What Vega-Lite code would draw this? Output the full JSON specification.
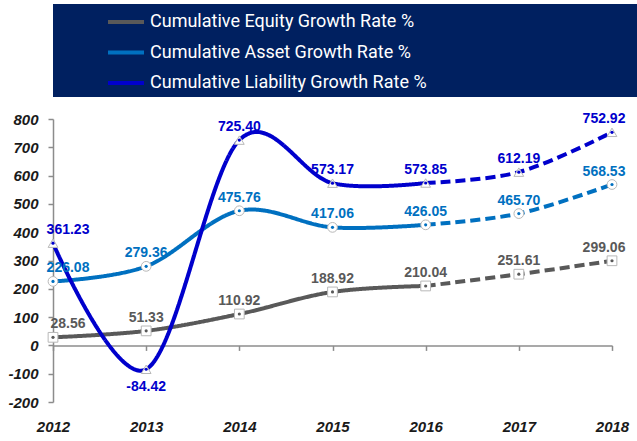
{
  "$schema": "https://vega.github.io/schema/vega-lite/v6.json",
  "padding": {"left": 3, "top": 4, "right": 3, "bottom": 0},
  "background": "white",
  "config": {
    "view": {"stroke": null},
    "font": "Liberation Sans",
    "locale": {"number": {"decimal": ".", "thousands": ",", "grouping": [3], "currency": ["$", ""], "minus": "-"}}
  },
  "resolve": {"legend": {"color": "independent"}},
  "spacing": 15,
  "datasets": {
    "series": [
      {"series": "Cumulative Equity Growth Rate  %"},
      {"series": "Cumulative Asset Growth Rate  %"},
      {"series": "Cumulative Liability Growth Rate  %"}
    ],
    "rates": [
      {"series": "Cumulative Equity Growth Rate  %", "year": "2012", "value": 28.56, "seg": "actual"},
      {"series": "Cumulative Equity Growth Rate  %", "year": "2013", "value": 51.33, "seg": "actual"},
      {"series": "Cumulative Equity Growth Rate  %", "year": "2014", "value": 110.92, "seg": "actual"},
      {"series": "Cumulative Equity Growth Rate  %", "year": "2015", "value": 188.92, "seg": "actual"},
      {"series": "Cumulative Equity Growth Rate  %", "year": "2016", "value": 210.04, "seg": "actual"},
      {"series": "Cumulative Equity Growth Rate  %", "year": "2016", "value": 210.04, "seg": "forecast"},
      {"series": "Cumulative Equity Growth Rate  %", "year": "2017", "value": 251.61, "seg": "forecast"},
      {"series": "Cumulative Equity Growth Rate  %", "year": "2018", "value": 299.06, "seg": "forecast"},
      {"series": "Cumulative Asset Growth Rate  %", "year": "2012", "value": 226.08, "seg": "actual"},
      {"series": "Cumulative Asset Growth Rate  %", "year": "2013", "value": 279.36, "seg": "actual"},
      {"series": "Cumulative Asset Growth Rate  %", "year": "2014", "value": 475.76, "seg": "actual"},
      {"series": "Cumulative Asset Growth Rate  %", "year": "2015", "value": 417.06, "seg": "actual"},
      {"series": "Cumulative Asset Growth Rate  %", "year": "2016", "value": 426.05, "seg": "actual"},
      {"series": "Cumulative Asset Growth Rate  %", "year": "2016", "value": 426.05, "seg": "forecast"},
      {"series": "Cumulative Asset Growth Rate  %", "year": "2017", "value": 465.70, "seg": "forecast"},
      {"series": "Cumulative Asset Growth Rate  %", "year": "2018", "value": 568.53, "seg": "forecast"},
      {"series": "Cumulative Liability Growth Rate  %", "year": "2012", "value": 361.23, "seg": "actual"},
      {"series": "Cumulative Liability Growth Rate  %", "year": "2013", "value": -84.42, "seg": "actual"},
      {"series": "Cumulative Liability Growth Rate  %", "year": "2014", "value": 725.40, "seg": "actual"},
      {"series": "Cumulative Liability Growth Rate  %", "year": "2015", "value": 573.17, "seg": "actual"},
      {"series": "Cumulative Liability Growth Rate  %", "year": "2016", "value": 573.85, "seg": "actual"},
      {"series": "Cumulative Liability Growth Rate  %", "year": "2016", "value": 573.85, "seg": "forecast"},
      {"series": "Cumulative Liability Growth Rate  %", "year": "2017", "value": 612.19, "seg": "forecast"},
      {"series": "Cumulative Liability Growth Rate  %", "year": "2018", "value": 752.92, "seg": "forecast"}
    ]
  },
  "vconcat": [
    {
      "width": 631,
      "height": 93,
      "view": {"fill": "#002060", "stroke": null},
      "data": {"name": "series"},
      "mark": {"type": "text", "text": ""},
      "encoding": {
        "color": {
          "field": "series", "type": "nominal",
          "scale": {
            "domain": ["Cumulative Equity Growth Rate  %", "Cumulative Asset Growth Rate  %", "Cumulative Liability Growth Rate  %"],
            "range": ["#595959", "#0070C0", "#0000CC"]
          },
          "legend": {
            "title": null, "orient": "none", "legendX": 63, "legendY": 8,
            "direction": "vertical", "padding": 0, "zindex": 1,
            "symbolType": "M-1.8,-0.2H1.8V0.2H-1.8Z", "symbolSize": 400, "symbolStrokeWidth": 0,
            "labelColor": "white", "labelFont": "Roboto", "labelFontSize": 18,
            "labelOffset": 14, "rowPadding": 11.5, "labelLimit": 500
          }
        }
      }
    },
    {
      "width": 559,
      "height": 283,
      "data": {"name": "rates"},
      "encoding": {
        "x": {
          "field": "year", "type": "ordinal",
          "scale": {"type": "point", "padding": 0},
          "axis": {
            "title": null, "labelAngle": 0, "offset": -56.6, "grid": false,
            "domainColor": "#8c8c8c", "domainWidth": 1.5, "tickColor": "#8c8c8c", "tickWidth": 1.5, "tickSize": 5,
            "labelPadding": 69, "labelFontSize": 15, "labelFontStyle": "italic", "labelFontWeight": "bold", "labelColor": "#1a1a1a"
          }
        },
        "y": {
          "field": "value", "type": "quantitative",
          "scale": {"domain": [-200, 800], "nice": false, "zero": false},
          "axis": {
            "title": null, "values": [-200, -100, 0, 100, 200, 300, 400, 500, 600, 700, 800], "grid": false,
            "domainColor": "#8c8c8c", "domainWidth": 1.5, "tickColor": "#8c8c8c", "tickWidth": 1.5, "tickSize": 5,
            "labelPadding": 10, "labelFontSize": 15, "labelFontStyle": "italic", "labelFontWeight": "bold", "labelColor": "#1a1a1a",
            "minExtent": 50, "maxExtent": 50
          }
        },
        "color": {
          "field": "series", "type": "nominal",
          "scale": {
            "domain": ["Cumulative Equity Growth Rate  %", "Cumulative Asset Growth Rate  %", "Cumulative Liability Growth Rate  %"],
            "range": ["#595959", "#0070C0", "#0000CC"]
          },
          "legend": null
        }
      },
      "layer": [
        {
          "mark": {"type": "line", "interpolate": "cardinal", "strokeWidth": 4},
          "encoding": {
            "strokeDash": {"field": "seg", "type": "nominal", "scale": {"domain": ["actual", "forecast"], "range": [[1, 0], [10, 5]]}, "legend": null}
          }
        },
        {
          "transform": [{"filter": "datum.seg == 'actual' || datum.year != '2016'"}],
          "mark": {"type": "point", "filled": true, "opacity": 1, "size": 95, "fill": "white", "stroke": "#b8b8b8", "strokeWidth": 1},
          "encoding": {
            "color": {"value": "white"},
            "stroke": {"value": "#b8b8b8"},
            "shape": {"field": "series", "type": "nominal", "scale": {"domain": ["Cumulative Equity Growth Rate  %", "Cumulative Asset Growth Rate  %", "Cumulative Liability Growth Rate  %"], "range": ["square", "circle", "triangle-up"]}, "legend": null}
          }
        },
        {
          "transform": [{"filter": "datum.seg == 'actual' || datum.year != '2016'"}],
          "mark": {"type": "point", "filled": true, "opacity": 1, "size": 10}
        },
        {
          "transform": [{"filter": "(datum.seg == 'actual' || datum.year != '2016') && datum.year != '2012' && datum.year != '2018' && datum.value >= 0"}],
          "mark": {"type": "text", "fontSize": 14, "fontWeight": "bold", "baseline": "middle", "dy": -13},
          "encoding": {"text": {"field": "value", "type": "quantitative", "format": ".2f"}}
        },
        {
          "transform": [{"filter": "datum.value < 0"}],
          "mark": {"type": "text", "fontSize": 14, "fontWeight": "bold", "baseline": "middle", "dy": 18},
          "encoding": {"text": {"field": "value", "type": "quantitative", "format": ".2f"}}
        },
        {
          "transform": [{"filter": "datum.year == '2012'"}],
          "mark": {"type": "text", "fontSize": 14, "fontWeight": "bold", "baseline": "middle", "dy": -13, "dx": 15},
          "encoding": {"text": {"field": "value", "type": "quantitative", "format": ".2f"}}
        },
        {
          "transform": [{"filter": "datum.year == '2018'"}],
          "mark": {"type": "text", "fontSize": 14, "fontWeight": "bold", "baseline": "middle", "dy": -13, "dx": -8},
          "encoding": {"text": {"field": "value", "type": "quantitative", "format": ".2f"}}
        }
      ]
    }
  ]
}
